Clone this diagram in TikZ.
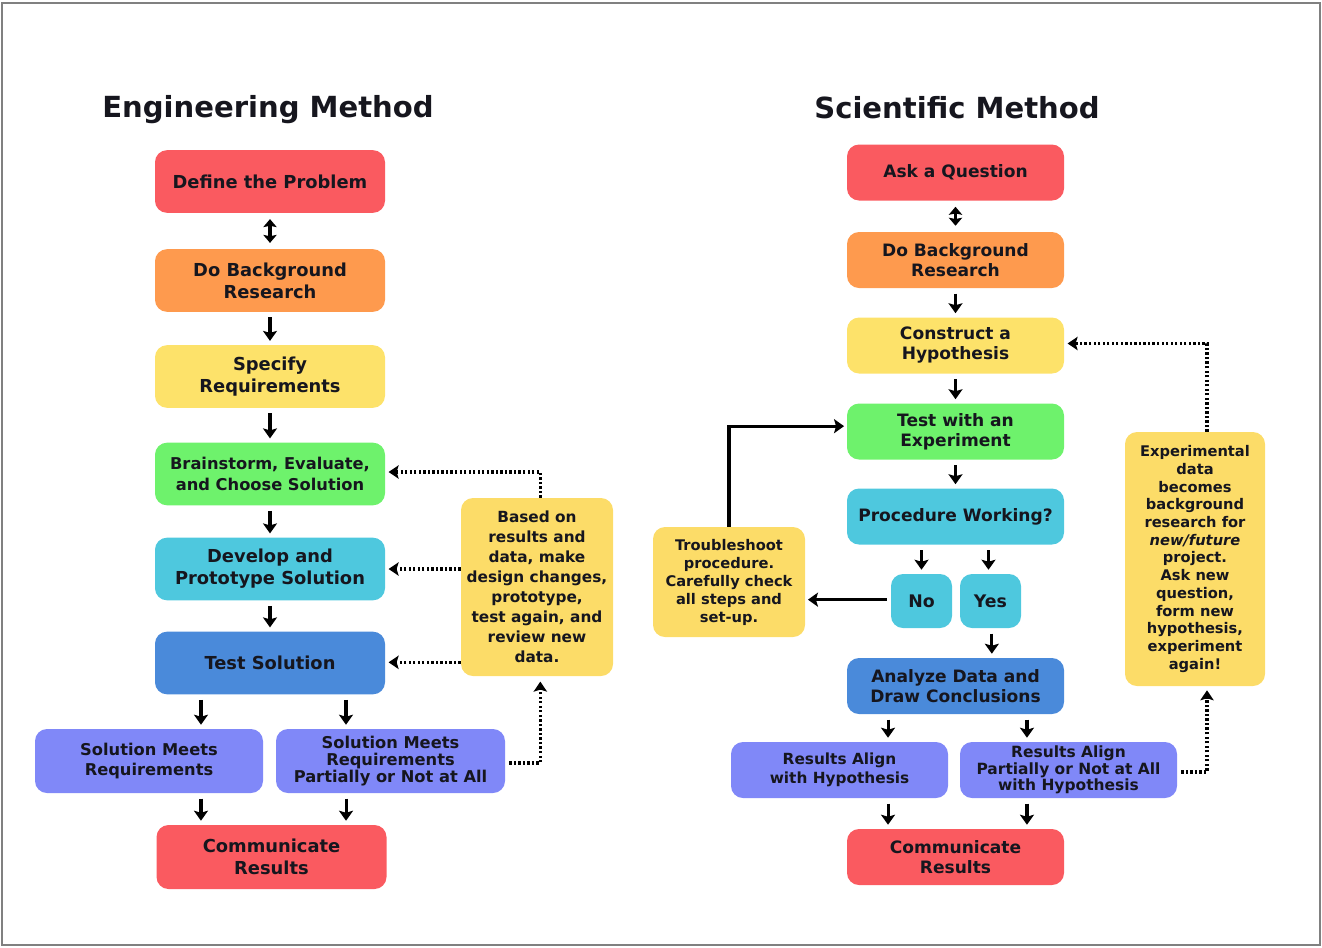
\documentclass[tikz,border=0pt]{standalone}
\usepackage{fontspec}
\setmainfont{DejaVu Sans}
\usetikzlibrary{arrows.meta}
\definecolor{cred}{RGB}{250,90,96}
\definecolor{corange}{RGB}{254,154,78}
\definecolor{cyellow}{RGB}{253,226,106}
\definecolor{cgold}{RGB}{252,220,104}
\definecolor{cgreen}{RGB}{110,242,108}
\definecolor{ccyan}{RGB}{78,200,222}
\definecolor{cblue}{RGB}{74,138,218}
\definecolor{cperi}{RGB}{128,136,248}
\definecolor{ctext}{RGB}{22,22,30}
\newcommand{\fs}[2]{\fontsize{#1}{#2}\selectfont}
\begin{document}
\begin{tikzpicture}[x=0.75pt,y=-0.75pt,
  box/.style={rounded corners=9pt, align=center, inner sep=0pt, text=ctext,
    font=\bfseries\fs{13.4}{16.5}},
  bigbox/.style={box, minimum width=172.5pt, minimum height=47pt},
  sbox/.style={box, minimum width=162.75pt, minimum height=42pt, font=\bfseries\fs{12.8}{15}},
  ttl/.style={font=\bfseries\fs{21.8}{24}, text=ctext, inner sep=0pt},
  arr/.style={-{Stealth[width=10.5pt,length=7.5pt,inset=1.5pt]}, line width=2.3pt, shorten <=4pt, shorten >=3pt},
  darr/.style={{Stealth[width=10pt,length=6pt,inset=1pt]}-{Stealth[width=10pt,length=6pt,inset=1pt]}, line width=2.3pt, shorten <=4.5pt, shorten >=4.5pt},
  solidarr/.style={-{Stealth[width=10.5pt,length=7.5pt,inset=1.5pt]}, line width=2.3pt, shorten >=2pt},
  dotarr/.style={-{Stealth[width=10pt,length=7.5pt,inset=1.5pt]}, line width=2.4pt, dash pattern=on 1.7pt off 1.7pt, shorten >=2.5pt}
]
\useasboundingbox (0,0) rectangle (1322,947);
\draw[gray, line width=1.6pt] (2,3) rectangle (1320,945);

% ---------- Engineering Method ----------
\node[ttl] (t1) at (268,110) {Engineering Method};
\node[bigbox, fill=cred] (def) at (270,181.5) {Define the Problem};
\node[bigbox, fill=corange] (bg) at (270,280.5) {Do Background\\Research};
\node[bigbox, fill=cyellow] (spec) at (270,376.5) {Specify\\Requirements};
\node[bigbox, fill=cgreen, font=\bfseries\fs{12.2}{15.5}] (brain) at (270,474) {Brainstorm, Evaluate,\\and Choose Solution};
\node[bigbox, fill=ccyan] (dev) at (270,569) {Develop and\\Prototype Solution};
\node[bigbox, fill=cblue] (test) at (270,663) {Test Solution};
\node[box, fill=cperi, minimum width=171pt, minimum height=48pt, font=\bfseries\fs{12.2}{15.5}] (meets) at (149,761) {Solution Meets\\Requirements};
\node[box, fill=cperi, minimum width=171.75pt, minimum height=48pt, font=\bfseries\fs{12.2}{13}] (partial) at (390.5,761) {Solution Meets\\Requirements\\Partially or Not at All};
\node[bigbox, fill=cred, minimum height=48pt] (comm) at (271.5,857) {Communicate\\Results};
\node[box, fill=cgold, minimum width=114pt, minimum height=133.5pt, font=\bfseries\fs{11.5}{15}] (based) at (537,587) {Based on\\results and\\data, make\\design changes,\\prototype,\\test again, and\\review new\\data.};

\draw[darr] (def) -- (bg);
\draw[arr] (bg) -- (spec);
\draw[arr] (spec) -- (brain);
\draw[arr] (brain) -- (dev);
\draw[arr] (dev) -- (test);
\draw[arr] ([xshift=-51.75pt]test.south) -- ([xshift=-51.75pt]test.south |- meets.north);
\draw[arr] ([xshift=57pt]test.south) -- ([xshift=57pt]test.south |- partial.north);
\draw[arr] ([xshift=-52.9pt]comm.north |- meets.south) -- ([xshift=-52.9pt]comm.north);
\draw[arr] ([xshift=55.9pt]comm.north |- partial.south) -- ([xshift=55.9pt]comm.north);

\draw[dotarr] ([xshift=2.5pt]based.north) |- ([yshift=1.5pt]brain.east);
\draw[dotarr] (based.west |- dev.east) -- (dev.east);
\draw[dotarr] ([yshift=0.5pt]based.west |- test.east) -- ([yshift=0.5pt]test.east);
\draw[dotarr, shorten <=3pt, shorten >=4pt] ([yshift=-1.5pt]partial.east) -| ([xshift=2.5pt]based.south);

% ---------- Scientific Method ----------
\node[ttl] (t2) at (957,108) {Scientific Method};
\node[sbox, fill=cred] (ask) at (955.5,172.5) {Ask a Question};
\node[sbox, fill=corange] (bg2) at (955.5,260) {Do Background\\Research};
\node[sbox, fill=cyellow] (hyp) at (955.5,345.5) {Construct a\\Hypothesis};
\node[sbox, fill=cgreen] (exper) at (955.5,431.5) {Test with an\\Experiment};
\node[sbox, fill=ccyan] (proc) at (955.5,516.5) {Procedure Working?};
\node[box, fill=ccyan, minimum width=45.75pt, minimum height=40.5pt, font=\bfseries\fs{13}{15}] (no) at (921.5,601) {No};
\node[box, fill=ccyan, minimum width=45.75pt, minimum height=40.5pt, font=\bfseries\fs{13}{15}] (yes) at (990.5,601) {Yes};
\node[sbox, fill=cblue] (anal) at (955.5,686) {Analyze Data and\\Draw Conclusions};
\node[sbox, fill=cperi, font=\bfseries\fs{11.5}{14.3}] (align) at (839.5,770) {Results Align\\with Hypothesis};
\node[sbox, fill=cperi, font=\bfseries\fs{11.6}{12.4}] (alignp) at (1068.5,770) {Results Align\\Partially or Not at All\\with Hypothesis};
\node[sbox, fill=cred] (comm2) at (955.5,857) {Communicate\\Results};
\node[box, fill=cgold, minimum width=114pt, minimum height=82.5pt, font=\bfseries\fs{11}{13.5}] (trouble) at (729,582) {Troubleshoot\\procedure.\\Carefully check\\all steps and\\set-up.};
\node[box, fill=cgold, minimum width=105pt, minimum height=190.5pt, font=\bfseries\fs{11}{13.3}] (expdata) at (1195,559) {Experimental\\data\\becomes\\background\\research for\\\textit{new/future}\\project.\\Ask new\\question,\\form new\\hypothesis,\\experiment\\again!};

\draw[darr] (ask) -- (bg2);
\draw[arr] (bg2) -- (hyp);
\draw[arr] (hyp) -- (exper);
\draw[arr] (exper) -- (proc);
\draw[arr] (proc.south -| no.north) -- (no.north);
\draw[arr] ([xshift=-1.5pt]proc.south -| yes.north) -- ([xshift=-1.5pt]yes.north);
\draw[arr] ([xshift=1pt]yes.south) -- ([xshift=1pt]anal.north -| yes.south);
\draw[arr] ([xshift=-50.6pt]anal.south) -- ([xshift=-50.6pt]anal.south |- align.north);
\draw[arr] ([xshift=53.6pt]anal.south) -- ([xshift=53.6pt]anal.south |- alignp.north);
\draw[arr] ([xshift=-50.6pt]comm2.north |- align.south) -- ([xshift=-50.6pt]comm2.north);
\draw[arr] ([xshift=53.6pt]comm2.north |- alignp.south) -- ([xshift=53.6pt]comm2.north);
\draw[solidarr, shorten <=3pt] ([yshift=1pt]no.west) -- ([yshift=1pt]trouble.east |- no.west);
\draw[solidarr] (trouble.north) |- ([yshift=4pt]exper.west);
\draw[dotarr] ([xshift=9pt]expdata.north) |- ([yshift=1.5pt]hyp.east);
\draw[dotarr, shorten <=3pt, shorten >=3pt] ([yshift=-1.5pt]alignp.east) -| ([xshift=9pt]expdata.south);
\end{tikzpicture}
\end{document}
